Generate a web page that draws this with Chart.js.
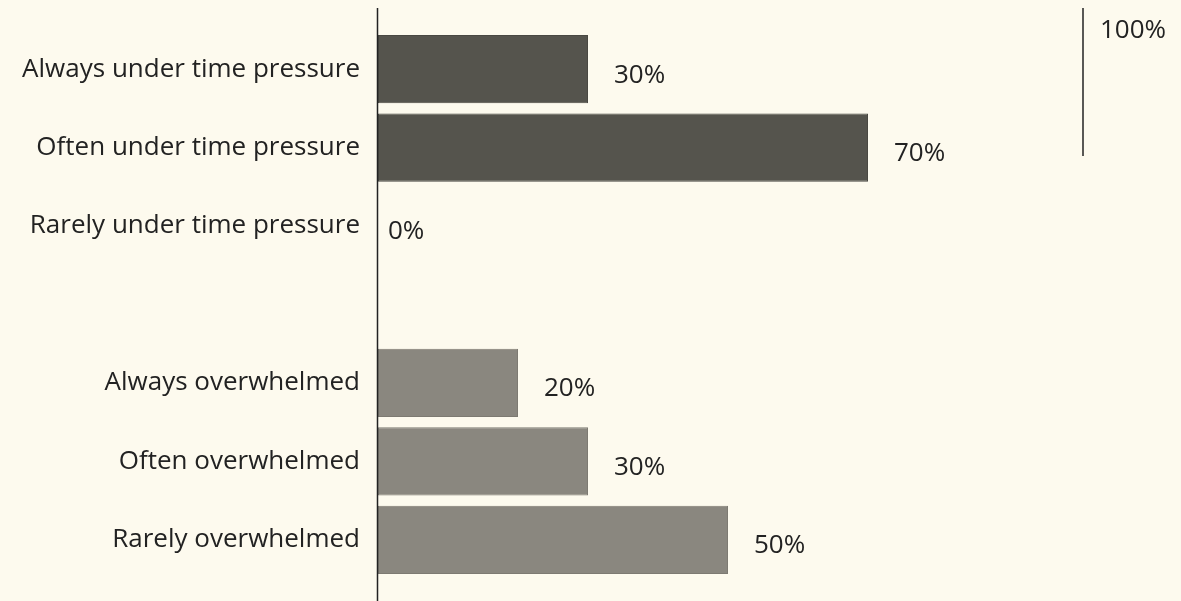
<!DOCTYPE html>
<html>
<head>
<meta charset="utf-8">
<script src="https://cdn.jsdelivr.net/npm/chart.js@4/dist/chart.umd.min.js"></script>
<style>
  html, body { margin: 0; padding: 0; background: #fdfaee; }
  #wrap { width: 1181px; height: 601px; position: relative; }
</style>
</head>
<body>
<div id="wrap"><canvas id="chart"></canvas></div>
<script>
// categories (the empty one is the gap between the two groups)
const categories = [
    'Always under time pressure',
    'Often under time pressure',
    'Rarely under time pressure',
    '',
    'Always overwhelmed',
    'Often overwhelmed',
    'Rarely overwhelmed'
];
const percentValues = [30, 70, 0, null, 20, 30, 50];
const scaleMax = 100;

const DARK = '#55544d';
const DARK_EDGE = '#494842';
const LIGHT = '#8a877f';
const LIGHT_EDGE = '#7d7a72';
const TEXT = '#222222';
const FONT = '"Open Sans", "Noto Sans", sans-serif';

// value labels, the axis line and the 100% marker
const extras = {
    id: 'extras',
    afterDatasetsDraw(chart) {
        const ctx = chart.ctx;
        const xs = chart.scales.x;
        const meta = chart.getDatasetMeta(0);
        ctx.save();
        ctx.fillStyle = TEXT;
        ctx.font = '26px ' + FONT;
        ctx.textAlign = 'left';
        ctx.textBaseline = 'middle';
        meta.data.forEach((bar, i) => {
            const v = percentValues[i];
            if (v === null) return;
            ctx.fillText(v + '%', bar.x + (v === 0 ? 10 : 26), bar.y + 6);
        });

        const x0 = Math.round(xs.getPixelForValue(0)) - 0.5;
        ctx.strokeStyle = TEXT;
        ctx.lineWidth = 1.5;
        ctx.beginPath();
        ctx.moveTo(x0, 8);
        ctx.lineTo(x0, chart.height);
        ctx.stroke();

        const x100 = Math.round(xs.getPixelForValue(scaleMax)) + 5;
        ctx.beginPath();
        ctx.moveTo(x100, 8);
        ctx.lineTo(x100, 156);
        ctx.stroke();
        ctx.fillText('100%', x100 + 17, 31);
        ctx.restore();
    }
};

new Chart(document.getElementById('chart'), {
    type: 'bar',
    data: {
        labels: categories,
        datasets: [{
            data: percentValues,
            backgroundColor: c => c.dataIndex < 3 ? DARK : LIGHT,
            borderColor: c => c.dataIndex < 3 ? DARK_EDGE : LIGHT_EDGE,
            borderWidth: 1,
            borderSkipped: false,
            barPercentage: 0.87,
            categoryPercentage: 1
        }]
    },
    options: {
        indexAxis: 'y',
        responsive: true,
        maintainAspectRatio: false,
        animation: false,
        layout: { padding: { left: 0, right: 103, top: 30, bottom: 22 } },
        plugins: { legend: { display: false }, tooltip: { enabled: false } },
        scales: {
            x: {
                display: false,
                min: 0,
                max: scaleMax
            },
            y: {
                grid: { display: false, drawTicks: false },
                border: { display: false },
                ticks: {
                    color: TEXT,
                    padding: 18,
                    font: { family: FONT, size: 26 }
                },
                afterFit(scale) {
                    scale.width = 378;
                    scale.paddingTop = 0;
                    scale.paddingBottom = 0;
                }
            }
        }
    },
    plugins: [extras]
});
</script>
</body>
</html>
